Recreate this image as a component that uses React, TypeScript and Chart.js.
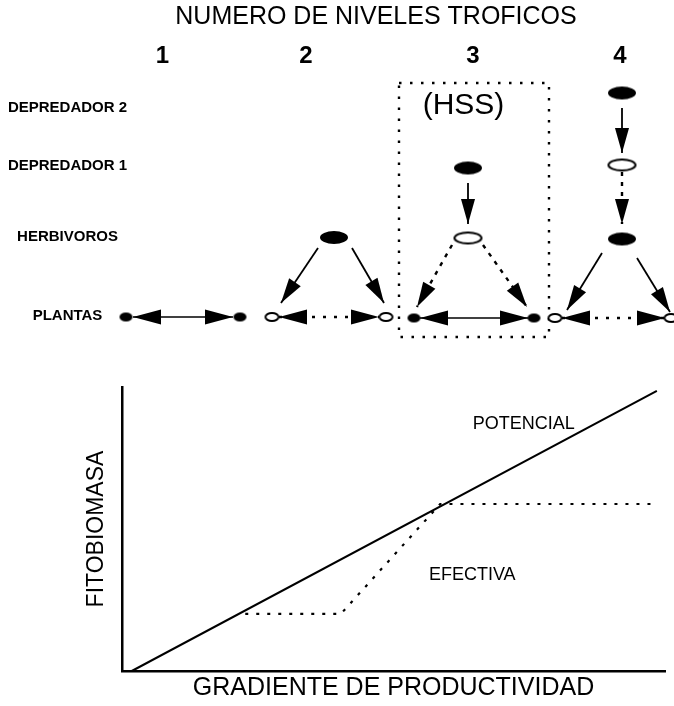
import React, { useEffect, useRef } from 'react';
import { Chart, registerables } from 'chart.js';

Chart.register(...registerables);

const FONT = "'Liberation Sans', Arial, Helvetica, sans-serif";

// ---------- Top diagram (coordinates in diagram units) ----------
const diagramTitle = 'NUMERO DE NIVELES TROFICOS';
const levelLabels = ['1', '2', '3', '4'];
const levelX = [162.5, 306, 473, 620];
const levelY = 56;
const rowLabels = ['DEPREDADOR 2', 'DEPREDADOR 1', 'HERBIVOROS', 'PLANTAS'];
const rowLabelY = [107.5, 166, 236.5, 316];
const rowLabelX = 67.5;
const hssLabel = '(HSS)';

const bigFilledNodes = [
  { x: 334, y: 237.5 },
  { x: 468, y: 168 },
  { x: 622, y: 93 },
  { x: 622, y: 239 },
];
const bigOpenNodes = [
  { x: 468, y: 238 },
  { x: 622, y: 165 },
];
const smallFilledNodes = [
  { x: 126, y: 317 },
  { x: 240, y: 317 },
  { x: 414, y: 318 },
  { x: 534, y: 318 },
];
const smallOpenNodes = [
  { x: 272, y: 317 },
  { x: 386, y: 317 },
  { x: 555, y: 318 },
  { x: 671, y: 318 },
];

const solidArrowEdges = [
  [{ x: 318, y: 248 }, { x: 281, y: 303 }],
  [{ x: 352, y: 248 }, { x: 384, y: 303 }],
  [{ x: 468, y: 183 }, { x: 468, y: 224 }],
  [{ x: 622, y: 108 }, { x: 622, y: 153 }],
  [{ x: 602, y: 253 }, { x: 567, y: 310 }],
  [{ x: 637, y: 258 }, { x: 670, y: 312 }],
];
const dottedArrowEdges = [
  [{ x: 452, y: 245 }, { x: 417, y: 307 }],
  [{ x: 483, y: 245 }, { x: 527, y: 307 }],
  [{ x: 622, y: 172 }, { x: 622, y: 224 }],
];
const solidPlantLinks = [
  [{ x: 133, y: 317 }, { x: 233, y: 317 }],
  [{ x: 420, y: 318 }, { x: 528, y: 318 }],
];
const dottedPlantLinks = [
  [{ x: 279, y: 317 }, { x: 379, y: 317 }],
  [{ x: 562, y: 318 }, { x: 665, y: 318 }],
];
const hssBox = [
  { x: 399, y: 83 },
  { x: 549, y: 83 },
  { x: 549, y: 337 },
  { x: 399, y: 337 },
  { x: 399, y: 83 },
];

// ---------- Bottom chart ----------
const xAxisTitle = 'GRADIENTE DE PRODUCTIVIDAD';
const yAxisTitle = 'FITOBIOMASA';
const potencialX = [1.8, 98.5];
const potencialY = [0, 98.6];
const efectivaX = [22.7, 40.3, 58.6, 98.5];
const efectivaY = [20.1, 20.1, 58.8, 58.8];
const curveLabels = ['POTENCIAL', 'EFECTIVA'];
const curveLabelX = [74, 64.5];
const curveLabelY = [86.8, 33.8];

type TextItem = { text: string; x: number; y: number; font: string };

function makeTextPlugin(id: string, items: TextItem[]) {
  return {
    id,
    afterDatasetsDraw(chart: any) {
      const ctx = chart.ctx;
      const xs = chart.scales.x;
      const ys = chart.scales.y;
      ctx.save();
      ctx.fillStyle = '#000';
      ctx.textAlign = 'center';
      ctx.textBaseline = 'middle';
      items.forEach((it) => {
        ctx.font = it.font;
        ctx.fillText(it.text, xs.getPixelForValue(it.x), ys.getPixelForValue(it.y));
      });
      ctx.restore();
    },
  };
}

const arrowPlugin = {
  id: 'arrowHeads',
  afterDatasetsDraw(chart: any) {
    const ctx = chart.ctx;
    chart.data.datasets.forEach((ds: any, i: number) => {
      if (!ds.arrowHead) return;
      const pts = chart.getDatasetMeta(i).data;
      const n = pts.length;
      const L = ds.arrowHead.length;
      const W = ds.arrowHead.width;
      const head = (tip: any, from: any) => {
        const ang = Math.atan2(tip.y - from.y, tip.x - from.x);
        ctx.save();
        ctx.translate(tip.x, tip.y);
        ctx.rotate(ang);
        ctx.fillStyle = '#000';
        ctx.beginPath();
        ctx.moveTo(0, 0);
        ctx.lineTo(-L, -W / 2);
        ctx.lineTo(-L, W / 2);
        ctx.closePath();
        ctx.fill();
        ctx.restore();
      };
      head(pts[n - 1], pts[n - 2]);
      if (ds.arrowHead.both) head(pts[0], pts[1]);
    });
  },
};

function ellipse(w: number, h: number, filled: boolean) {
  const c = document.createElement('canvas');
  c.width = w + 4;
  c.height = h + 4;
  const ctx = c.getContext('2d')!;
  ctx.beginPath();
  ctx.ellipse(c.width / 2, c.height / 2, w / 2, h / 2, 0, 0, Math.PI * 2);
  if (filled) {
    ctx.fillStyle = '#000';
    ctx.fill();
  } else {
    ctx.fillStyle = '#fff';
    ctx.fill();
    ctx.lineWidth = 2;
    ctx.strokeStyle = '#000';
    ctx.stroke();
  }
  return c;
}

export default function App() {
  const topRef = useRef<HTMLCanvasElement>(null);
  const botRef = useRef<HTMLCanvasElement>(null);

  useEffect(() => {
    const nodeDs = (data: any[], style: HTMLCanvasElement) => ({
      data,
      pointStyle: style,
      pointRadius: 6,
      showLine: false,
      clip: false,
    });
    const edgeDs = (seg: any[], dash: number[], width: number, head: any) => ({
      data: seg,
      showLine: true,
      borderColor: '#000',
      borderWidth: width,
      borderDash: dash,
      pointRadius: 0,
      clip: false,
      arrowHead: head,
    });

    const topTexts: TextItem[] = [
      { text: diagramTitle, x: 376, y: 17.5, font: `25px ${FONT}` },
      ...levelLabels.map((t, i) => ({ text: t, x: levelX[i], y: levelY, font: `bold 24px ${FONT}` })),
      ...rowLabels.map((t, i) => ({ text: t, x: rowLabelX, y: rowLabelY[i], font: `bold 15px ${FONT}` })),
      { text: hssLabel, x: 463.5, y: 106, font: `30px ${FONT}` },
    ];

    const top = new Chart(topRef.current!, {
      type: 'scatter',
      data: {
        datasets: [
          nodeDs(bigOpenNodes, ellipse(27, 11, false)),
          nodeDs(smallOpenNodes, ellipse(13, 8, false)),
          nodeDs(bigFilledNodes, ellipse(28, 13, true)),
          nodeDs(smallFilledNodes, ellipse(13, 9, true)),
          ...solidArrowEdges.map((s) => edgeDs(s, [], 1.8, { length: 25, width: 14 })),
          ...dottedArrowEdges.map((s) => edgeDs(s, [4, 6], 2.4, { length: 25, width: 14 })),
          ...solidPlantLinks.map((s) => edgeDs(s, [], 1.6, { length: 28, width: 15, both: true })),
          ...dottedPlantLinks.map((s) => edgeDs(s, [3, 8], 2.4, { length: 28, width: 15, both: true })),
          edgeDs(hssBox, [2.5, 8.5], 2.4, null),
        ] as any,
      },
      options: {
        responsive: false,
        animation: false,
        devicePixelRatio: 1,
        layout: { padding: 0, autoPadding: false },
        plugins: { legend: { display: false }, tooltip: { enabled: false } },
        events: [],
        scales: {
          x: { type: 'linear', min: 0, max: 674, display: false },
          y: { type: 'linear', min: 0, max: 350, reverse: true, display: false },
        },
      } as any,
      plugins: [arrowPlugin, makeTextPlugin('topTexts', topTexts)],
    });

    const botTexts: TextItem[] = curveLabels.map((t, i) => ({
      text: t,
      x: curveLabelX[i],
      y: curveLabelY[i],
      font: `18px ${FONT}`,
    }));

    const bottom = new Chart(botRef.current!, {
      type: 'scatter',
      data: {
        datasets: [
          {
            label: 'POTENCIAL',
            data: potencialX.map((x, i) => ({ x, y: potencialY[i] })),
            showLine: true,
            borderColor: '#000',
            borderWidth: 2,
            pointRadius: 0,
            clip: false,
          },
          {
            label: 'EFECTIVA',
            data: efectivaX.map((x, i) => ({ x, y: efectivaY[i] })),
            showLine: true,
            borderColor: '#000',
            borderWidth: 2.2,
            borderDash: [3, 8],
            pointRadius: 0,
            clip: false,
          },
        ] as any,
      },
      options: {
        responsive: false,
        animation: false,
        devicePixelRatio: 1,
        layout: { padding: { top: 37, right: 9, left: 0, bottom: 0 }, autoPadding: false },
        plugins: { legend: { display: false }, tooltip: { enabled: false } },
        events: [],
        scales: {
          x: {
            type: 'linear',
            min: 0,
            max: 100,
            grid: { display: false, drawTicks: false },
            border: { display: true, color: '#000', width: 2.5 },
            ticks: { display: false },
            title: {
              display: true,
              text: xAxisTitle,
              color: '#000',
              font: { family: FONT, size: 25 },
              padding: { top: 0, bottom: 3 },
            },
            afterFit: (s: any) => {
              s.height = 35;
            },
          },
          y: {
            type: 'linear',
            min: 0,
            max: 100,
            grid: { display: false, drawTicks: false },
            border: { display: true, color: '#000', width: 2.5 },
            ticks: { display: false },
            title: {
              display: true,
              text: yAxisTitle,
              color: '#000',
              font: { family: FONT, size: 23 },
              padding: { top: 83, bottom: 0 },
            },
            afterFit: (s: any) => {
              s.width = 122;
            },
          },
        },
      } as any,
      plugins: [makeTextPlugin('botTexts', botTexts)],
    });

    return () => {
      top.destroy();
      bottom.destroy();
    };
  }, []);

  return (
    <div style={{ position: 'absolute', left: 0, top: 0, width: 674, height: 706, background: '#fff' }}>
      <canvas ref={topRef} width={674} height={350} style={{ display: 'block', width: 674, height: 350 }} />
      <canvas ref={botRef} width={674} height={356} style={{ display: 'block', width: 674, height: 356 }} />
    </div>
  );
}
